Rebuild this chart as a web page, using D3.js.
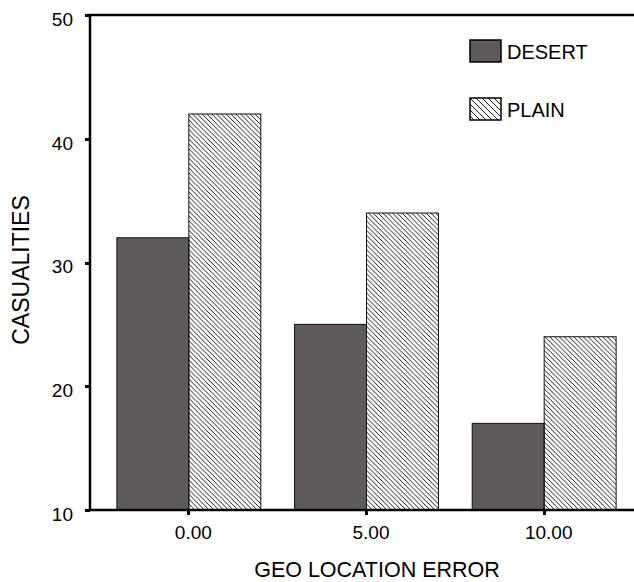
<!DOCTYPE html>
<html>
<head>
<meta charset="utf-8">
<script src="https://cdn.jsdelivr.net/npm/d3@7/dist/d3.min.js"></script>
<style>
    body { margin: 0; background: #fff; }
    svg text { font-family: "Liberation Sans", Arial, sans-serif; fill: #000; }
    .axis path, .axis line { stroke: #000; shape-rendering: crispEdges; }
    .axis text { font-size: 19px; }
</style>
</head>
<body>
<script>
// data
var categories = ["0.00", "5.00", "10.00"];
var desert = [32, 25, 17];
var plain = [42, 34, 24];
var seriesNames = ["DESERT", "PLAIN"];
var yTicks = [10, 20, 30, 40, 50];

var width = 634, height = 582;
// plot edges (note: "top" is reserved on window, so use a margin object)
var plot = {left: 90, top: 15, bottom: 510, right: 634};

var svg = d3.select("body").append("svg")
    .attr("width", width)
    .attr("height", height);

var defs = svg.append("defs");
// hatch pattern for bars and a wider one for the legend swatch
function hatch(id, s) {
    defs.append("pattern")
        .attr("id", id)
        .attr("patternUnits", "userSpaceOnUse")
        .attr("width", s).attr("height", s)
      .append("path")
        .attr("d", "M-1,-1L" + (s + 1) + "," + (s + 1) +
                   "M" + (s - 1) + ",-1L" + (s + 1) + ",1" +
                   "M-1," + (s - 1) + "L1," + (s + 1))
        .attr("stroke", "#000")
        .attr("stroke-width", 0.9);
}
hatch("hatch", 4.8);
hatch("hatchLeg", 6);

var x = d3.scaleBand()
    .domain(categories)
    .range([100, 633])
    .paddingInner(0.19)
    .paddingOuter(0.095);

var x1 = d3.scaleBand()
    .domain(seriesNames)
    .range([0, x.bandwidth()]);

var y = d3.scaleLinear()
    .domain([10, 50])
    .range([plot.bottom, plot.top]);

var fills = { "DESERT": "#5f5b5a", "PLAIN": "url(#hatch)" };

var rows = categories.map(function(c, i) {
    return { cat: c, vals: [
        { key: "DESERT", v: desert[i] },
        { key: "PLAIN", v: plain[i] }
    ]};
});

// bars
var groups = svg.selectAll("g.grp")
    .data(rows)
    .enter().append("g")
    .attr("class", "grp")
    .attr("transform", function(d) { return "translate(" + x(d.cat) + ",0)"; });

groups.selectAll("rect")
    .data(function(d) { return d.vals; })
    .enter().append("rect")
    .attr("x", function(d) { return x1(d.key); })
    .attr("y", function(d) { return y(d.v); })
    .attr("width", x1.bandwidth())
    .attr("height", function(d) { return y(10) - y(d.v); })
    .attr("fill", function(d) { return fills[d.key]; })
    .attr("stroke", "#111")
    .attr("stroke-width", 1);

// y axis
var yAxis = d3.axisLeft(y)
    .tickValues(yTicks)
    .tickSizeInner(5)
    .tickSizeOuter(0)
    .tickPadding(12);

var gy = svg.append("g")
    .attr("class", "axis")
    .attr("transform", "translate(" + plot.left + ",0)")
    .call(yAxis);
gy.select(".domain").remove();
gy.selectAll(".tick line").attr("stroke-width", 3);
gy.selectAll(".tick text").attr("dy", "0.55em");

// x axis
var xAxis = d3.axisBottom(x)
    .tickSizeInner(5)
    .tickSizeOuter(0)
    .tickPadding(11);

var gx = svg.append("g")
    .attr("class", "axis")
    .attr("transform", "translate(0," + plot.bottom + ")")
    .call(xAxis);
gx.select(".domain").remove();
gx.selectAll(".tick line").attr("stroke-width", 3);
gx.selectAll(".tick text").attr("dx", 4.5).attr("dy", "0.71em");

// frame lines: left, top, bottom
svg.append("path")
    .attr("d", "M" + plot.right + "," + plot.top + "H" + plot.left + "V" + plot.bottom + "H" + plot.right)
    .attr("fill", "none")
    .attr("stroke", "#000")
    .attr("stroke-width", 2.5);

// axis titles
svg.append("text")
    .attr("x", 377)
    .attr("y", 577)
    .attr("text-anchor", "middle")
    .style("font-size", "21.5px")
    .text("GEO LOCATION ERROR");

svg.append("text")
    .attr("transform", "translate(29,270) rotate(-90)")
    .attr("text-anchor", "middle")
    .style("font-size", "23px")
    .text("CASUALITIES");

// legend
var legend = svg.selectAll("g.legend")
    .data(seriesNames)
    .enter().append("g")
    .attr("class", "legend")
    .attr("transform", function(d, i) { return "translate(470," + (40 + i * 58) + ")"; });

legend.append("rect")
    .attr("width", 31)
    .attr("height", 22)
    .attr("fill", function(d) { return d === "PLAIN" ? "url(#hatchLeg)" : fills[d]; })
    .attr("stroke", "#000")
    .attr("stroke-width", 1.5);

legend.append("text")
    .attr("x", 37)
    .attr("y", 19)
    .style("font-size", "20px")
    .text(function(d) { return d; });
</script>
</body>
</html>
